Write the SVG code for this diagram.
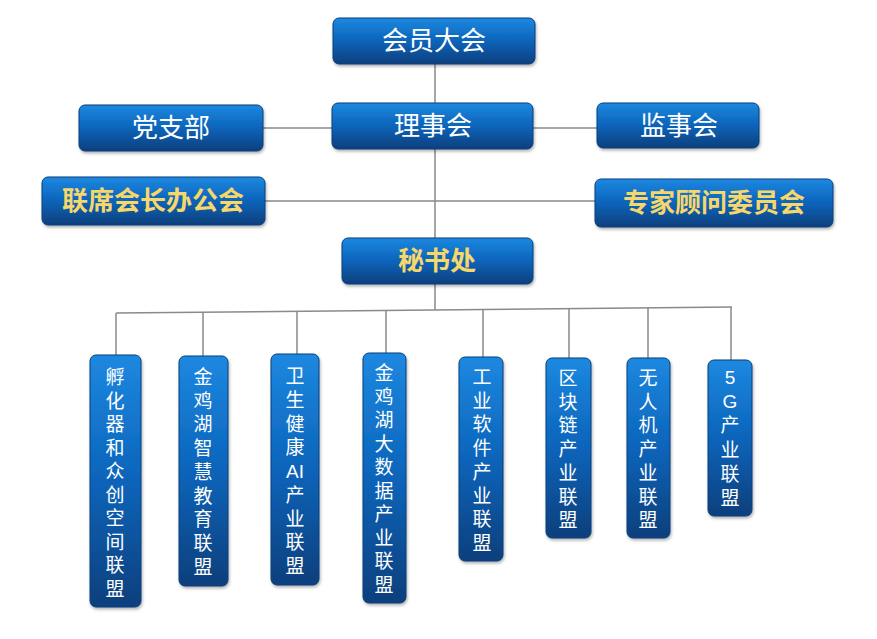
<svg xmlns="http://www.w3.org/2000/svg" width="877" height="639" viewBox="0 0 877 639">
<defs>
<linearGradient id="g" x1="0" y1="0" x2="0" y2="1">
<stop offset="0" stop-color="#1d88e0"/>
<stop offset="0.5" stop-color="#0b64ba"/>
<stop offset="1" stop-color="#0a3f7c"/>
</linearGradient>
<filter id="sh" x="-20%" y="-20%" width="140%" height="140%">
<feDropShadow dx="1" dy="2" stdDeviation="1.5" flood-color="#000" flood-opacity="0.3"/>
</filter>
<style>
.box{fill:url(#g);stroke:#0a3f7a;stroke-width:1;filter:url(#sh)}
.w{font-family:"Noto Sans CJK SC","Noto Sans",sans-serif;font-size:26px;fill:#ffffff;text-anchor:middle}
.y{font-family:"Noto Sans CJK SC","Noto Sans",sans-serif;font-size:26px;font-weight:bold;fill:#f7d66a;text-anchor:middle}
.v{font-family:"Liberation Sans","Noto Sans CJK SC",sans-serif;font-size:19px;fill:#ffffff;text-anchor:middle}
.ln{stroke:#8a8a8a;stroke-width:1.5;fill:none}
</style>
</defs>
<rect width="877" height="639" fill="#ffffff"/>
<g id="connectors">
<line class="ln" x1="435" y1="64" x2="435" y2="310"/>
<line class="ln" x1="263" y1="128" x2="332" y2="128"/>
<line class="ln" x1="533" y1="128" x2="597" y2="128"/>
<line class="ln" x1="265" y1="201" x2="595" y2="201"/>
<line class="ln" x1="116" y1="313" x2="732" y2="307"/>
<line class="ln" x1="116" y1="313" x2="116" y2="355"/>
<line class="ln" x1="203" y1="312.2" x2="203" y2="356"/>
<line class="ln" x1="297" y1="311.3" x2="297" y2="354"/>
<line class="ln" x1="386" y1="310.4" x2="386" y2="353"/>
<line class="ln" x1="483" y1="309.4" x2="483" y2="357"/>
<line class="ln" x1="569" y1="308.6" x2="569" y2="358"/>
<line class="ln" x1="648" y1="307.8" x2="648" y2="358"/>
<line class="ln" x1="731" y1="307" x2="731" y2="360"/>
</g>
<g id="n-huiyuan"><rect class="box" x="333" y="18" width="202" height="46" rx="6"/><text class="w" x="434" y="50">会员大会</text></g>
<g id="n-lishi"><rect class="box" x="332" y="103" width="201" height="46" rx="6"/><text class="w" x="433" y="135">理事会</text></g>
<g id="n-dangzhibu"><rect class="box" x="79" y="105" width="184" height="46" rx="6"/><text class="w" x="171" y="137">党支部</text></g>
<g id="n-jianshi"><rect class="box" x="597" y="103" width="162" height="45" rx="6"/><text class="w" x="679" y="135">监事会</text></g>
<g id="n-lianxi"><rect class="box" x="42" y="177" width="223" height="48" rx="6"/><text class="y" x="153" y="210">联席会长办公会</text></g>
<g id="n-zhuanjia"><rect class="box" x="595" y="179" width="238" height="48" rx="6"/><text class="y" x="714" y="212">专家顾问委员会</text></g>
<g id="n-mishu"><rect class="box" x="342" y="238" width="191" height="46" rx="6"/><text class="y" x="437" y="270">秘书处</text></g>
<g id="n-fuhuaqi"><rect class="box" x="90" y="355" width="51" height="252" rx="6"/>
<text class="v" x="115" y="384">孵</text><text class="v" x="115" y="407.5">化</text><text class="v" x="115" y="431">器</text><text class="v" x="115" y="454.5">和</text><text class="v" x="115" y="478">众</text><text class="v" x="115" y="501.5">创</text><text class="v" x="115" y="525">空</text><text class="v" x="115" y="548.5">间</text><text class="v" x="115" y="572">联</text><text class="v" x="115" y="595.5">盟</text></g>
<g id="n-zhihui"><rect class="box" x="179" y="356" width="49" height="230" rx="6"/>
<text class="v" x="203" y="384">金</text><text class="v" x="203" y="407.7">鸡</text><text class="v" x="203" y="431.4">湖</text><text class="v" x="203" y="455.1">智</text><text class="v" x="203" y="478.8">慧</text><text class="v" x="203" y="502.5">教</text><text class="v" x="203" y="526.2">育</text><text class="v" x="203" y="549.9">联</text><text class="v" x="203" y="573.6">盟</text></g>
<g id="n-weisheng"><rect class="box" x="271" y="354" width="48" height="231" rx="6"/>
<text class="v" x="295" y="383">卫</text><text class="v" x="295" y="406.75">生</text><text class="v" x="295" y="430.5">健</text><text class="v" x="295" y="454.25">康</text><text class="v" x="295" y="478">AI</text><text class="v" x="295" y="501.75">产</text><text class="v" x="295" y="525.5">业</text><text class="v" x="295" y="549.25">联</text><text class="v" x="295" y="573">盟</text></g>
<g id="n-dashuju"><rect class="box" x="363" y="353" width="43" height="250" rx="6"/>
<text class="v" x="384" y="380">金</text><text class="v" x="384" y="403.5">鸡</text><text class="v" x="384" y="427">湖</text><text class="v" x="384" y="450.5">大</text><text class="v" x="384" y="474">数</text><text class="v" x="384" y="497.5">据</text><text class="v" x="384" y="521">产</text><text class="v" x="384" y="544.5">业</text><text class="v" x="384" y="568">联</text><text class="v" x="384" y="591.5">盟</text></g>
<g id="n-gongye"><rect class="box" x="459" y="357" width="44" height="204" rx="6"/>
<text class="v" x="482" y="384">工</text><text class="v" x="482" y="407.7">业</text><text class="v" x="482" y="431.4">软</text><text class="v" x="482" y="455.1">件</text><text class="v" x="482" y="478.8">产</text><text class="v" x="482" y="502.5">业</text><text class="v" x="482" y="526.2">联</text><text class="v" x="482" y="549.9">盟</text></g>
<g id="n-qukuailian"><rect class="box" x="546" y="358" width="45" height="180" rx="6"/>
<text class="v" x="568" y="385">区</text><text class="v" x="568" y="408.7">块</text><text class="v" x="568" y="432.4">链</text><text class="v" x="568" y="456.1">产</text><text class="v" x="568" y="479.8">业</text><text class="v" x="568" y="503.5">联</text><text class="v" x="568" y="527.2">盟</text></g>
<g id="n-wurenji"><rect class="box" x="627" y="358" width="43" height="180" rx="6"/>
<text class="v" x="648" y="385">无</text><text class="v" x="648" y="408.7">人</text><text class="v" x="648" y="432.4">机</text><text class="v" x="648" y="456.1">产</text><text class="v" x="648" y="479.8">业</text><text class="v" x="648" y="503.5">联</text><text class="v" x="648" y="527.2">盟</text></g>
<g id="n-5g"><rect class="box" x="708" y="360" width="44" height="156" rx="6"/>
<text class="v" x="730" y="384">5</text><text class="v" x="730" y="408.2">G</text><text class="v" x="730" y="432.4">产</text><text class="v" x="730" y="456.6">业</text><text class="v" x="730" y="480.8">联</text><text class="v" x="730" y="505">盟</text></g>
</svg>
